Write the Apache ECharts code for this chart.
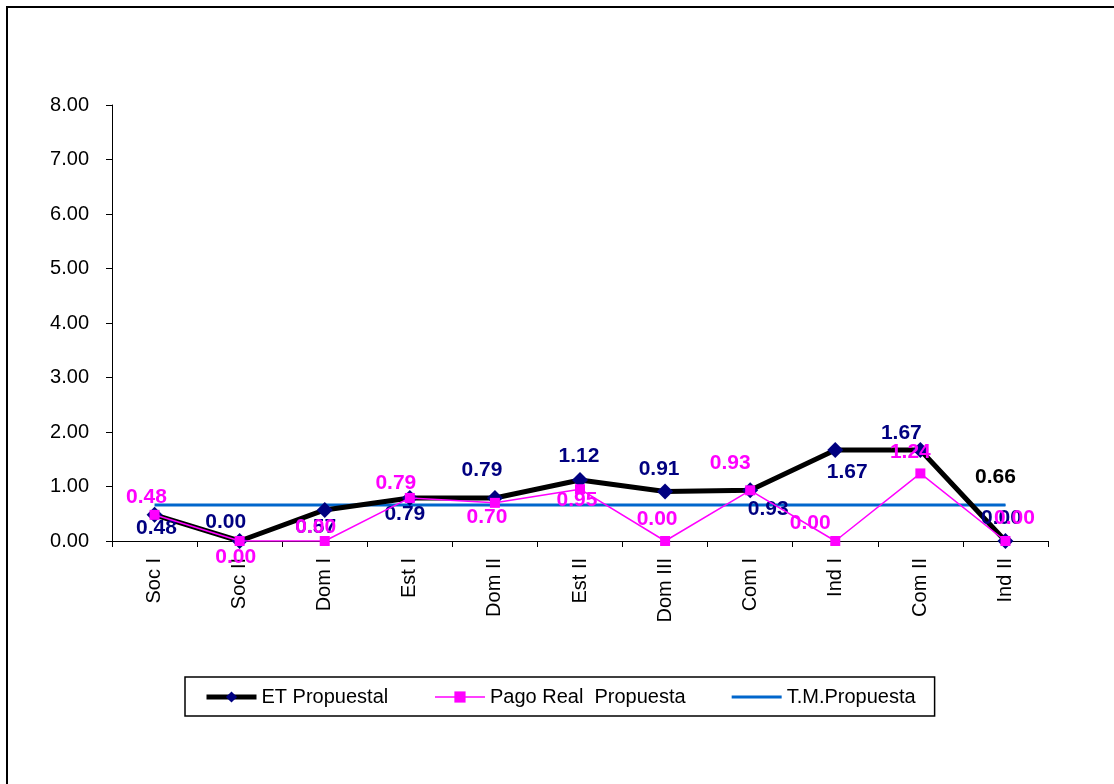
<!DOCTYPE html>
<html>
<head>
<meta charset="utf-8">
<script src="https://cdn.jsdelivr.net/npm/echarts@6/dist/echarts.min.js"></script>
<style>
html,body{margin:0;padding:0;background:#fff;}
#chart{width:1114px;height:784px;}
</style>
</head>
<body>
<div id="chart"></div>
<script>
const categories = ['Soc I','Soc II','Dom I','Est I','Dom II','Est II','Dom III','Com I','Ind I','Com II','Ind II'];
const etPropuestal = [0.48, 0.00, 0.57, 0.79, 0.79, 1.12, 0.91, 0.93, 1.67, 1.67, 0.00];
const pagoReal = [0.48, 0.00, 0.00, 0.79, 0.70, 0.95, 0.00, 0.93, 0.00, 1.24, 0.00];
const tmPropuesta = [0.66, 0.66, 0.66, 0.66, 0.66, 0.66, 0.66, 0.66, 0.66, 0.66, 0.66];
const yTicks = [0, 1, 2, 3, 4, 5, 6, 7, 8];

// label offsets (pixels) relative to the marker centre
const etOffsets = [[2,13],[-14,-19],[-9,17],[-5,16],[-13,-28],[-1,-24],[-6,-22],[18,19],[12,22],[-19,-17],[-4,-23]];
const pagoOffsets = [[-8,-18],[-4,16],[-9,-14],[-14,-15],[-8,14],[-3,11],[-8,-22],[-20,-27],[-25,-18],[-10,-21],[9,-23]];

const labelFont = {fontFamily:'Liberation Sans, Arial', fontWeight:'bold', fontSize:21};
const axisFont = {fontFamily:'Liberation Sans, Arial', fontSize:20, color:'#000'};

const chart = echarts.init(document.getElementById('chart'), null, {renderer:'canvas'});
chart.setOption({
  backgroundColor:'#fff',
  animation:false,
  graphic:[{
    type:'rect', x:0, y:0, shape:{x:7, y:7, width:1130, height:800},
    style:{fill:'none', stroke:'#000', lineWidth:2}, silent:true
  }],
  grid:{left:112, right:66, top:105, bottom:243},
  legend:{
    bottom:68, left:185,
    itemWidth:50, itemHeight:14, itemGap:46,
    padding:[10,19,9,19],
    borderColor:'#000', borderWidth:1.5,
    textStyle:Object.assign({}, axisFont),
    data:[
      {name:'ET Propuestal', lineStyle:{width:5, color:'#000'}},
      {name:'Pago Real  Propuesta', lineStyle:{width:1.5, color:'#FF00FF'}},
      {name:'T.M.Propuesta', icon:'path://M0,0L0,0L50,0Z M0,5.5L50,5.5L50,8.5L0,8.5Z M0,14L50,14L0,14Z',
        itemStyle:{color:'#0066CC'}}
    ]
  },
  xAxis:{
    type:'category', data:categories, boundaryGap:true,
    axisLine:{lineStyle:{color:'#000', width:1}},
    axisTick:{show:true, length:6, lineStyle:{color:'#000'}},
    axisLabel:Object.assign({rotate:90, margin:17}, axisFont)
  },
  yAxis:{
    type:'value', min:yTicks[0], max:yTicks[yTicks.length-1], interval:1,
    axisLine:{show:true, lineStyle:{color:'#000', width:1}},
    axisTick:{show:true, length:6, lineStyle:{color:'#000'}},
    splitLine:{show:false},
    axisLabel:Object.assign({margin:23, formatter:v=>v.toFixed(2)}, axisFont)
  },
  series:[
    {
      name:'T.M.Propuesta', type:'line', symbol:'none', z:2,
      lineStyle:{color:'#0066CC', width:3}, itemStyle:{color:'#0066CC'},
      data: tmPropuesta.map((v,i)=> i===tmPropuesta.length-1 ? {
        value:v, symbol:'circle', symbolSize:1,
        label:Object.assign({show:true, position:'inside', offset:[-10,-28], color:'#000',
          formatter:p=>p.value.toFixed(2)}, labelFont)
      } : v)
    },
    {
      name:'ET Propuestal', type:'line', symbol:'diamond', symbolSize:[16,16], z:3,
      lineStyle:{color:'#000', width:5}, itemStyle:{color:'#000080'},
      data: etPropuestal.map((v,i)=>({value:v,
        label:Object.assign({show:true, position:'inside', offset:etOffsets[i], color:'#000080',
          formatter:p=>p.value.toFixed(2)}, labelFont)}))
    },
    {
      name:'Pago Real  Propuesta', type:'line', symbol:'rect', symbolSize:10, z:4,
      lineStyle:{color:'#FF00FF', width:1.5}, itemStyle:{color:'#FF00FF'},
      data: pagoReal.map((v,i)=>({value:v,
        label:Object.assign({show:true, position:'inside', offset:pagoOffsets[i], color:'#FF00FF',
          formatter:p=>p.value.toFixed(2)}, labelFont)}))
    }
  ]
});
</script>
</body>
</html>
